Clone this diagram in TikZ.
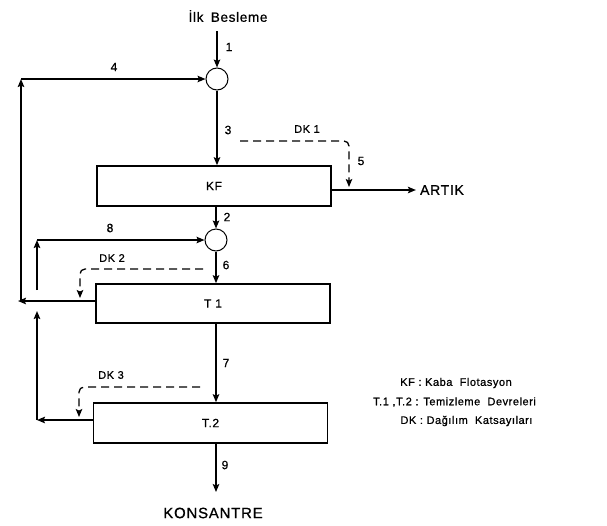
\documentclass[tikz,border=0pt]{standalone}
\usepackage{fontspec}
\setmainfont[LetterSpace=5,FakeBold=0.8]{Liberation Sans}
\usetikzlibrary{arrows.meta}
\begin{document}
\begin{tikzpicture}[x=1pt,y=-1pt,
  tip/.style={-{Stealth[length=8pt,width=6.5pt,inset=1.5pt]}},
  flow/.style={line width=1.6pt},
  arr/.style={flow,tip},
  dk/.style={line width=1.3pt,dash pattern=on 8pt off 5pt,rounded corners=5pt,tip},
  mixer/.style={circle,draw,line width=1pt,minimum size=22pt,inner sep=0pt},
  unit/.style={draw,line width=1.6pt,minimum width=234pt,minimum height=40pt,inner sep=0pt,font=\fontsize{12}{14}\selectfont},
  lbl/.style={inner sep=0pt,font=\fontsize{12}{14}\selectfont},
  dklbl/.style={inner sep=0pt,font=\fontsize{11}{13}\selectfont},
  leg/.style={inner sep=0pt,font=\fontsize{11}{13}\selectfont},
  big/.style={inner sep=0pt,font=\fontsize{14}{16}\selectfont}
]
\useasboundingbox (0,0) rectangle (607,525);

% nodes
\node[big,font=\fontsize{13.5}{15}\selectfont] (title) at (228,16) {İlk\hspace{3pt} Besleme};
\coordinate (feed) at (217,31);
\node[mixer] (mix1) at (217,79) {};
\node[unit] (KF) at (214,186) {KF};
\node[mixer] (mix2) at (216,240) {};
\node[unit,minimum height=39pt] (T1) at (213,303.5) {T\hspace{4pt}1};
\node[unit] (T2) at (210.5,423) {T.2};
\node[big] (artik) at (442,190) {ARTIK};
\node[big,font=\fontsize{15}{17}\selectfont] (kons) at (213,513) {KONSANTRE};

% helper coordinates
\coordinate (lc1) at (18,301);
\coordinate (lv1) at (21,301);
\coordinate (c4) at (21,79);
\coordinate (lc2) at (37,420);
\coordinate (hop1) at (37,311);
\coordinate (hop2) at (37,290);
\coordinate (c8) at (37,240);
\coordinate (k9) at (216,492);
\coordinate (d1s) at (240,141);
\coordinate (d1c) at (349,141);
\coordinate (d1e) at (349,187);
\coordinate (d2s) at (203,269);
\coordinate (d2c) at (80,269);
\coordinate (d2e) at (80,298);
\coordinate (d3s) at (200,387);
\coordinate (d3c) at (79,387);
\coordinate (d3e) at (79,417);

% main flows
\draw[arr] (feed) -- (mix1.north);
\draw[arr] (mix1.south) -- (mix1.south |- KF.north);
\draw[arr] (mix2.north |- KF.south) -- (mix2.north);
\draw[arr] (mix2.south) -- (mix2.south |- T1.north);
\draw[arr] (mix2.south |- T1.south) -- (mix2.south |- T2.north);
\draw[arr] (k9 |- T2.south) -- (k9);
\draw[arr] (KF.east |- artik.west) -- ([xshift=-4pt]artik.west);

% recycle 4 (T1 tailings)
\draw[arr] (T1.west |- lc1) -- (lc1);
\draw[arr] (lv1) -- (c4);
\draw[arr] (c4) -- (mix1.west);

% recycle 8 (T2 tailings)
\draw[arr] (T2.west |- lc2) -- (lc2);
\draw[arr] (lc2) -- (hop1);
\draw[arr] (hop2) -- (c8);
\draw[arr] (c8) -- (mix2.west);

% distribution coefficients
\draw[dk] (d1s) -- (d1c) -- (d1e);
\draw[dk] (d2s) -- (d2c) -- (d2e);
\draw[dk] (d3s) -- (d3c) -- (d3e);

% labels
\node[lbl] (l1) at (229,47) {1};
\node[lbl] (l4) at (114,67) {4};
\node[lbl] (l3) at (228,130) {3};
\node[lbl] (l5) at (361,161) {5};
\node[lbl] (l2) at (227,217) {2};
\node[lbl] (l8) at (110,228) {8};
\node[lbl] (l6) at (226,265) {6};
\node[lbl] (l7) at (226,363) {7};
\node[lbl] (l9) at (225,465) {9};
\node[dklbl] (dk1) at (307,129) {DK 1};
\node[dklbl] (dk2) at (112,258) {DK 2};
\node[dklbl] (dk3) at (111,375) {DK 3};

% legend
\node[leg] (leg1) at (456,383) {KF : Kaba\ \ Flotasyon};
\node[leg] (leg2) at (454.5,402) {T.1 ,T.2 : Temizleme\ \ Devreleri};
\node[leg] (leg3) at (466.5,421) {DK : Dağılım\ \ Katsayıları};
\end{tikzpicture}
\end{document}
